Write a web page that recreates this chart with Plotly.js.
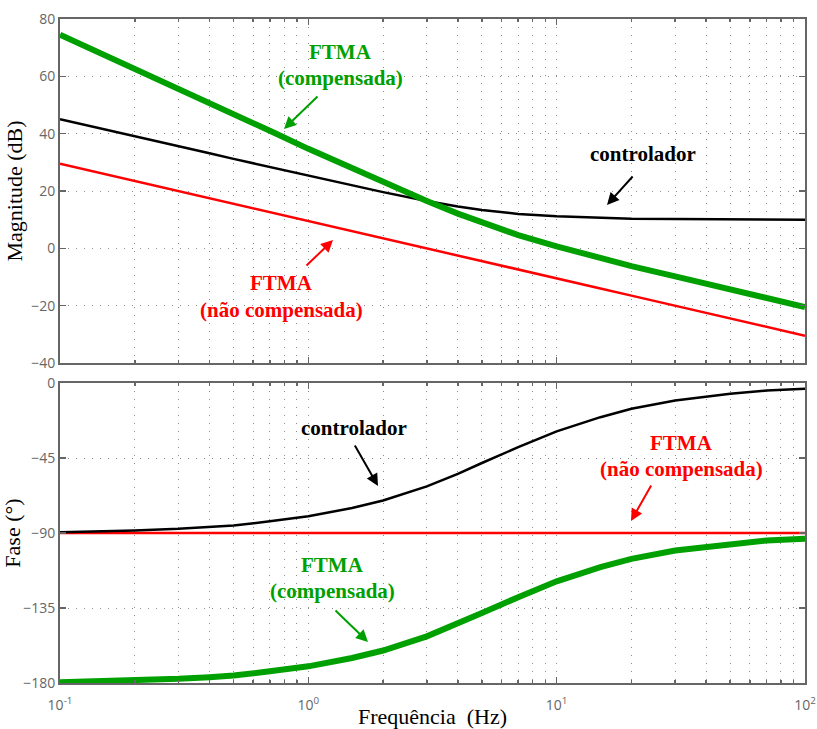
<!DOCTYPE html>
<html>
<head>
<meta charset="utf-8">
<script src="https://cdn.plot.ly/plotly-3.0.1.min.js"></script>
<style>html,body{margin:0;padding:0;background:#fff}#chart{width:817px;height:729px}</style>
</head>
<body>
<div id="chart"></div>
<script>
// Frequencies (Hz)
const freq = [0.1,0.15,0.2,0.3,0.4,0.5,0.7,1,1.5,2,3,4,5,7,10,15,20,30,50,70,100];
// Magnitude (dB)
const magCtrl = [45.0,41.6,39.1,35.6,33.2,31.2,28.4,25.2,21.8,19.6,16.5,14.6,13.4,12.0,11.2,10.6,10.3,10.2,10.1,10.0,10.0];
const magNC   = [29.5,26.0,23.5,20.0,17.5,15.5,12.6,9.5,6.0,3.5,0.0,-2.5,-4.5,-7.4,-10.5,-14.0,-16.5,-20.0,-24.5,-27.4,-30.5];
const magC    = [74.5,67.6,62.6,55.6,50.7,46.7,41.0,34.7,27.8,23.1,16.5,12.1,8.9,4.6,0.7,-3.4,-6.2,-9.8,-14.4,-17.4,-20.5];
// Phase (deg)
const phCtrl = [-89.5,-89,-88.5,-87.5,-86.5,-85.5,-83,-80,-75,-70.5,-62,-54.5,-48,-38.5,-29,-20.5,-15.5,-10.5,-6.5,-4.5,-3.5];
const phNC   = [-90,-90,-90,-90,-90,-90,-90,-90,-90,-90,-90,-90,-90,-90,-90,-90,-90,-90,-90,-90,-90];
const phC    = [-179.5,-179,-178.5,-177.5,-176.5,-175.5,-173,-170,-165,-160.5,-152,-144.5,-138,-128.5,-119,-110.5,-105.5,-100.5,-96.5,-94.5,-93.5];
// Tick labels
const xTickVals = [0.1,1,10,100];
const xTickText = ['10<sup>-1</sup>','10<sup>0</sup>','10<sup>1</sup>','10<sup>2</sup>'];
const xMinorVals = [0.2,0.3,0.4,0.5,0.6,0.7,0.8,0.9,2,3,4,5,6,7,8,9,20,30,40,50,60,70,80,90];
const magTicks = [-40,-20,0,20,40,60,80];
const phTicks = [-180,-135,-90,-45,0];

const GREEN = '#00a000', RED = '#ff0000', BLACK = '#000000';

const traces = [
  {x: freq, y: magNC, xaxis:'x', yaxis:'y', mode:'lines', line:{color:RED, width:2.5}, hoverinfo:'skip'},
  {x: freq, y: magCtrl, xaxis:'x', yaxis:'y', mode:'lines', line:{color:BLACK, width:2.5}, hoverinfo:'skip'},
  {x: freq, y: magC, xaxis:'x', yaxis:'y', mode:'lines', line:{color:GREEN, width:6}, hoverinfo:'skip'},
  {x: freq, y: phNC, xaxis:'x2', yaxis:'y2', mode:'lines', line:{color:RED, width:2.5}, hoverinfo:'skip'},
  {x: freq, y: phCtrl, xaxis:'x2', yaxis:'y2', mode:'lines', line:{color:BLACK, width:2.5}, hoverinfo:'skip'},
  {x: freq, y: phC, xaxis:'x2', yaxis:'y2', mode:'lines', line:{color:GREEN, width:6}, hoverinfo:'skip'}
];

const L = 60, R = 805, T = 19, B = 683;
const px = v => (v - L) / (R - L);
const py = v => (B - v) / (B - T);

const gridDash = '1px,7px';
const axCommon = {
  showline:true, mirror:'ticks', linecolor:'#666', linewidth:2,
  ticks:'inside', ticklen:6, tickcolor:'#666', tickwidth:1.5,
  showgrid:true, gridcolor:'#8a8a8a', gridwidth:1, griddash:gridDash,
  zeroline:false,
  tickfont:{family:'Open Sans', size:14, color:'#666'}
};
const xCommon = Object.assign({}, axCommon, {
  type:'log', range:[-1,2], tickmode:'array', tickvals:xTickVals, ticktext:xTickText,
  minor:{tickmode:'array', tickvals:xMinorVals, ticks:'inside', ticklen:3, tickcolor:'#666',
         showgrid:true, gridcolor:'#8a8a8a', gridwidth:1, griddash:gridDash}
});

const SERIF = 'Liberation Serif';
const titleFont = {family:SERIF, size:22, color:'#000'};
const annFont = c => ({family:SERIF, size:21, color:c});

function label(text, x, y, color){
  return {xref:'paper', yref:'paper', x:px(x), y:py(y), text:'<b>'+text+'</b>', showarrow:false,
          font:annFont(color), xanchor:'center', yanchor:'middle'};
}
function arrow(tipX, tipY, tailX, tailY, color){
  return {xref:'paper', yref:'paper', x:px(tipX), y:py(tipY), text:'', showarrow:true,
          ax: tailX - tipX, ay: tailY - tipY, axref:'pixel', ayref:'pixel',
          arrowhead:2, arrowsize:1.2, arrowwidth:2, arrowcolor:color};
}

const annotations = [
  label('FTMA', 340, 52, GREEN), label('(compensada)', 340, 78, GREEN),
  arrow(284, 129, 319, 95, GREEN),
  label('controlador', 643, 154, BLACK),
  arrow(607, 205, 634, 175, BLACK),
  label('FTMA', 281, 283, RED), label('(não compensada)', 281, 310, RED),
  arrow(333, 240, 305, 267, RED),
  label('controlador', 354, 428, BLACK),
  arrow(378, 486, 354, 444, BLACK),
  label('FTMA', 681, 443, RED), label('(não compensada)', 681, 469, RED),
  arrow(631, 521, 652, 484, RED),
  label('FTMA', 332, 565, GREEN), label('(compensada)', 332, 591, GREEN),
  arrow(368, 642, 334, 609, GREEN)
];

const layout = {
  width:817, height:729,
  margin:{l:L, r:817-R, t:T, b:729-B},
  paper_bgcolor:'#fff', plot_bgcolor:'#fff',
  showlegend:false,
  xaxis: Object.assign({}, xCommon, {anchor:'y', domain:[0,1], showticklabels:false}),
  yaxis: Object.assign({}, axCommon, {anchor:'x', domain:[py(363),1], range:[-40,80], tickmode:'array', tickvals:magTicks,
          title:{text:'Magnitude (dB)', font:titleFont, standoff:2}}),
  xaxis2: Object.assign({}, xCommon, {anchor:'y2', domain:[0,1], ticklabelstandoff:8,
          title:{text:'Frequência&nbsp;&nbsp;(Hz)', font:titleFont, standoff:0}}),
  yaxis2: Object.assign({}, axCommon, {anchor:'x2', domain:[0,py(383)], range:[-180,0], tickmode:'array', tickvals:phTicks,
          title:{text:'Fase (°)', font:titleFont, standoff:2}}),
  annotations: annotations
};

Plotly.newPlot('chart', traces, layout, {staticPlot:true, displayModeBar:false});
</script>
</body>
</html>
